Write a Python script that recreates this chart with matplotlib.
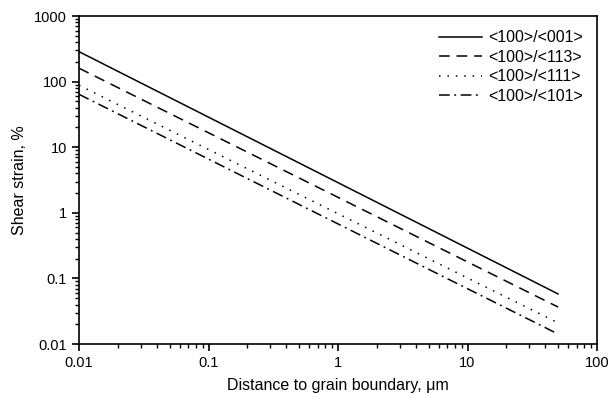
import matplotlib
matplotlib.use('Agg')
import matplotlib.pyplot as plt
from matplotlib.ticker import LogLocator, FixedFormatter, FixedLocator

plt.rcParams['font.family'] = ['Liberation Sans', 'DejaVu Sans']

# line end points (x in um, y in %)
x_ends = [0.01, 50]
labels = ["<100>/<001>", "<100>/<113>", "<100>/<111>", "<100>/<101>"]
y_001 = [286, 0.058]
y_113 = [160, 0.0366]
y_111 = [88, 0.021]
y_101 = [64, 0.0142]

x_ticks = [0.01, 0.1, 1, 10, 100]
x_tick_labels = ["0.01", "0.1", "1", "10", "100"]
y_ticks = [0.01, 0.1, 1, 10, 100, 1000]
y_tick_labels = ["0.01", "0.1", "1", "10", "100", "1000"]

fig = plt.figure(figsize=(6.14, 3.97), dpi=100)
ax = fig.add_axes([79 / 614, 1 - 344 / 397, 518 / 614, 328 / 397])

styles = ['-', (0, (7, 4.5)), (0, (1, 4.5)), (0, (7, 3, 1.2, 3))]
for y, lab, ls in zip([y_001, y_113, y_111, y_101], labels, styles):
    ax.plot(x_ends, y, color='black', lw=1.1, linestyle=ls, label=lab)

ax.set_xscale('log')
ax.set_yscale('log')
ax.set_xlim(0.01, 100)
ax.set_ylim(0.01, 1000)

ax.xaxis.set_major_locator(FixedLocator(x_ticks))
ax.xaxis.set_major_formatter(FixedFormatter(x_tick_labels))
ax.yaxis.set_major_locator(FixedLocator(y_ticks))
ax.yaxis.set_major_formatter(FixedFormatter(y_tick_labels))
ax.xaxis.set_minor_locator(LogLocator(base=10, subs=range(2, 10)))
ax.yaxis.set_minor_locator(LogLocator(base=10, subs=range(2, 10)))
ax.xaxis.set_minor_formatter(FixedFormatter([]))
ax.yaxis.set_minor_formatter(FixedFormatter([]))

ax.tick_params(which='major', direction='out', length=5, width=1.2, labelsize=10.5)
ax.tick_params(which='minor', direction='out', length=3, width=1.0)
for s in ax.spines.values():
    s.set_linewidth(1.2)

ax.set_xlabel("Distance to grain boundary, μm", fontsize=11.5, labelpad=6)
ax.set_ylabel("Shear strain, %", fontsize=11.5, labelpad=5)

ax.legend(loc='upper right', frameon=False, fontsize=11.5, handlelength=2.7,
          handletextpad=0.35, labelspacing=0.28, borderaxespad=0.5)

fig.savefig("out.png", dpi=100)
